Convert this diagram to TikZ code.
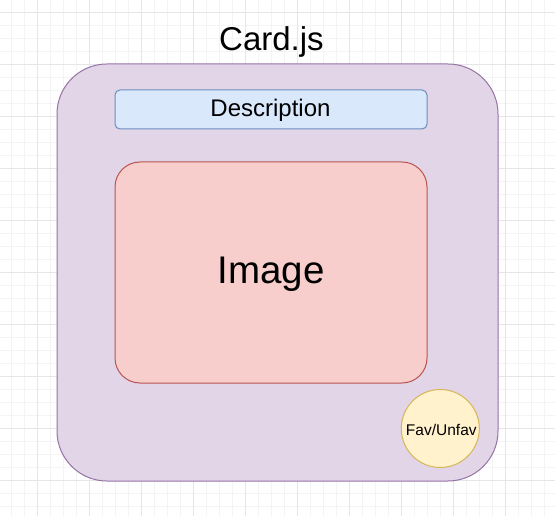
\documentclass[tikz,border=0pt]{standalone}
\usepackage{fontspec}
\setmainfont{Liberation Sans}
\definecolor{gridminor}{HTML}{F4F4F4}
\definecolor{gridmajor}{HTML}{E6E6E6}
\definecolor{cardfill}{HTML}{E1D5E7}
\definecolor{carddraw}{HTML}{9673A6}
\definecolor{descfill}{HTML}{DAE8FC}
\definecolor{descdraw}{HTML}{6C8EBF}
\definecolor{imgfill}{HTML}{F8CECC}
\definecolor{imgdraw}{HTML}{B85450}
\definecolor{favfill}{HTML}{FFF2CC}
\definecolor{favdraw}{HTML}{D6B656}
\tikzset{
  box/.style={draw, line width=1pt, inner sep=0pt, outer sep=0pt},
  txt/.style={anchor=base, inner sep=0pt, text=black}
}
\begin{document}
\begin{tikzpicture}[x=1pt, y=-1pt]
  \useasboundingbox (0,0) rectangle (555,516);
  \fill[white] (0,0) rectangle (555,516);
  % background grid
  \foreach \x in {11.3,24.3,...,555} {
      \draw[gridminor, line width=1pt] (\x,0) -- (\x,516);
  }
  \foreach \y in {12.7,25.7,...,516} {
      \draw[gridminor, line width=1pt] (0,\y) -- (555,\y);
  }
  \foreach \x in {37.3,89.3,...,555} {
      \draw[gridmajor, line width=1pt] (\x,0) -- (\x,516);
  }
  \foreach \y in {12.7,64.7,...,516} {
      \draw[gridmajor, line width=1pt] (0,\y) -- (555,\y);
  }
  % shapes
  \node[box, fill=cardfill, draw=carddraw, rounded corners=50pt,
        minimum width=441pt, minimum height=417pt] (card) at (277.5,272.5) {};
  \node[box, fill=descfill, draw=descdraw, rounded corners=5pt,
        minimum width=312pt, minimum height=39pt] (desc) at (271,109.5) {};
  \node[box, fill=imgfill, draw=imgdraw, rounded corners=25pt,
        minimum width=312pt, minimum height=221pt] (img) at (271,272.5) {};
  \node[box, circle, fill=favfill, draw=favdraw,
        minimum size=78pt] (fav) at (440.3,428.5) {};
  % texts
  \node[txt, font=\fontsize{33}{40}\selectfont] (title) at (271.5,51) {Card.js};
  \node[txt, font=\fontsize{24}{29}\selectfont] (desctext) at (270.5,116.7) {Description};
  \node[txt, font=\fontsize{38.5}{46}\selectfont] (imgtext) at (271,283.3) {Image};
  \node[txt, font=\fontsize{15.5}{19}\selectfont] (favtext) at (441.3,435.7) {Fav/Unfav};
\end{tikzpicture}
\end{document}
